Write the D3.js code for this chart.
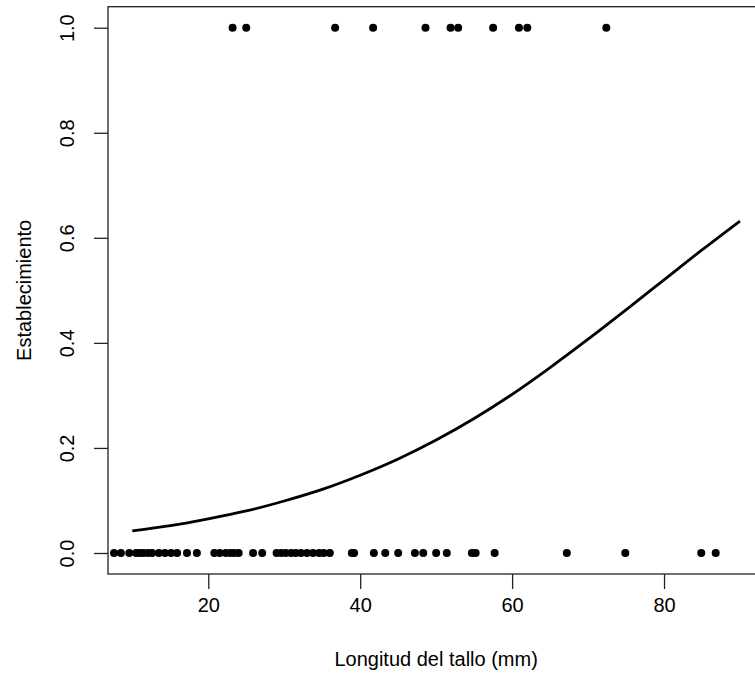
<!DOCTYPE html>
<html><head><meta charset="utf-8">
<script src="https://cdn.jsdelivr.net/npm/d3@7"></script>
<style>
html,body{margin:0;padding:0;background:#fff;overflow:hidden;}
text{font-family:"Liberation Sans",Arial,sans-serif;fill:#000;}
</style></head>
<body>
<svg id="c" width="755" height="677"></svg>
<script>
// Observations (stem length, establishment 0/1)
const xEstablished = [23.2, 25.0, 36.7, 41.7, 48.6, 51.9, 52.9, 57.5, 60.9, 62.0, 72.4];
const xNotEstablished = [7.6, 8.5, 9.6, 10.5, 11.0, 11.5, 12.1, 12.6, 13.5, 14.3, 15.1, 15.9, 17.2, 18.5,
  20.8, 21.5, 22.3, 22.9, 23.4, 24.0, 25.9, 27.1, 29.0, 29.6, 30.2, 30.9, 31.5, 32.2, 33.0, 33.8,
  34.6, 35.2, 36.0, 38.9, 39.2, 41.8, 43.3, 45.0, 47.2, 48.3, 50.0, 51.4, 54.7, 55.2, 57.7, 67.2,
  74.9, 84.9, 86.8];
// Fitted curve
const curveX = [10, 15, 20, 25, 30, 35, 40, 45, 50, 55, 60, 65, 70, 75, 80, 85, 90];
const curveY = [0.042, 0.052, 0.065, 0.080, 0.099, 0.121, 0.148, 0.179, 0.215, 0.256, 0.302, 0.353, 0.407, 0.463, 0.520, 0.577, 0.632];
const xTicks = [20, 40, 60, 80];
const yTicks = [0, 0.2, 0.4, 0.6, 0.8, 1.0];
const yTickLabels = ["0.0", "0.2", "0.4", "0.6", "0.8", "1.0"];
const xTitle = "Longitud del tallo (mm)";
const yTitle = "Establecimiento";

const svg = d3.select("#c");
const L = 108, R = 764.3, T = 6.7, B = 574;
const x = d3.scaleLinear().domain([6.8, 93.2]).range([L, R]);
const y = d3.scaleLinear().domain([-0.04, 1.04]).range([B, T]);
const FS = 20;

// box
svg.append("rect").attr("x", L).attr("y", T).attr("width", R - L).attr("height", B - T)
  .attr("fill", "none").attr("stroke", "#222").attr("stroke-width", 1.3);

// x axis
const gx = svg.append("g").attr("transform", `translate(0,${B})`)
  .call(d3.axisBottom(x).tickValues(xTicks).tickFormat(d3.format("d")).tickSize(15).tickSizeOuter(0).tickPadding(9));
gx.select(".domain").remove();
gx.selectAll(".tick line").attr("stroke", "#222").attr("stroke-width", 1.3);
gx.selectAll(".tick text").attr("font-size", FS).attr("fill", "#000")
  .style("font-family", "Liberation Sans, Arial, sans-serif");

// y axis
const gy = svg.append("g").attr("transform", `translate(${L},0)`)
  .call(d3.axisLeft(y).tickValues(yTicks).tickFormat((d, i) => yTickLabels[i]).tickSize(14).tickSizeOuter(0));
gy.select(".domain").remove();
gy.selectAll(".tick line").attr("stroke", "#222").attr("stroke-width", 1.3);
gy.selectAll(".tick text").attr("font-size", FS).attr("fill", "#000")
  .style("font-family", "Liberation Sans, Arial, sans-serif")
  .attr("x", null).attr("dy", null)
  .attr("text-anchor", "middle")
  .attr("transform", "translate(-34,0) rotate(-90)");

// titles
svg.append("text").attr("x", (L + R) / 2).attr("y", 666).attr("text-anchor", "middle")
  .attr("font-size", FS).text(xTitle);
svg.append("text").attr("transform", `translate(31,${(T + B) / 2}) rotate(-90)`).attr("text-anchor", "middle")
  .attr("font-size", FS).text(yTitle);

// points
const plot = svg.append("g");
plot.selectAll("circle.one").data(xEstablished).join("circle")
  .attr("cx", d => x(d)).attr("cy", y(1)).attr("r", 4).attr("fill", "#000");
plot.selectAll("circle.zero").data(xNotEstablished).join("circle")
  .attr("cx", d => x(d)).attr("cy", y(0)).attr("r", 4).attr("fill", "#000");

// curve
const line = d3.line().x(d => x(d[0])).y(d => y(d[1])).curve(d3.curveCatmullRom);
svg.append("path").datum(curveX.map((v, i) => [v, curveY[i]])).attr("d", line)
  .attr("fill", "none").attr("stroke", "#000").attr("stroke-width", 2.8);
</script>
</body></html>
